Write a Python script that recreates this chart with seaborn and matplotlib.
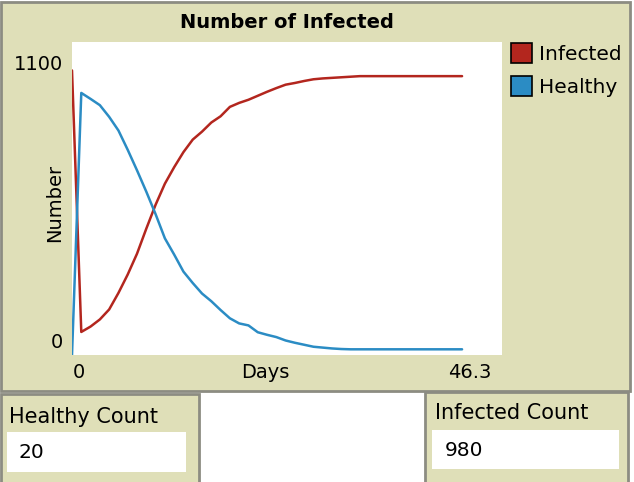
import pandas as pd
import matplotlib
matplotlib.use("Agg")
import matplotlib.pyplot as plt
import seaborn as sns
from matplotlib.patches import Rectangle, Patch

# ==========================================
# data
# ==========================================
days = list(range(43))
healthy = [0, 921, 900, 878, 837, 789, 721, 649, 574, 495,
           410, 353, 293, 253, 216, 189, 158, 129, 111, 104,
           80, 71, 63, 51, 43, 36, 29, 26, 23, 21,
           20, 20, 20, 20, 20, 20, 20, 20, 20, 20, 20, 20, 20]
infected = [1000, 81, 100, 125, 160, 218, 283, 356, 444, 528,
            602, 660, 713, 757, 785, 817, 839, 872, 886, 897,
            911, 925, 938, 950, 956, 963, 969, 972, 974, 976,
            978, 980, 980, 980, 980, 980, 980, 980, 980, 980, 980, 980, 980]
series_names = ["Infected", "Healthy"]
x_ticks = ["0", "46.3"]
y_ticks = ["1100", "0"]
monitor_labels = ["Healthy Count", "Infected Count"]
monitor_values = ["20", "980"]

RED = "#b3261e"
BLUE = "#2b8cc4"
BEIGE = "#dfdfb8"
EDGE = "#8c8c82"

W, H = 634, 482


def fx(x):
    return x / W


def fy(y):
    return 1 - y / H


sns.set_style("white")
plt.rcParams['font.family'] = ['DejaVu Sans']
plt.rcParams['text.color'] = 'black'

fig = plt.figure(figsize=(W / 100, H / 100), dpi=100)
fig.patch.set_facecolor("white")

# panels (main plot widget + two monitors)
def panel(x0, y0, x1, y1, color=BEIGE, edge=EDGE, lw=2.0):
    fig.patches.append(Rectangle((fx(x0), fy(y1)), fx(x1 - x0), (y1 - y0) / H,
                                 transform=fig.transFigure, facecolor=color,
                                 edgecolor=edge, linewidth=lw, zorder=-5))

panel(1, 2, 630, 391)
panel(1, 394, 199, 483)
panel(425, 392, 628, 483)
panel(7, 432, 186, 472, color="white", edge="none", lw=0)
panel(432, 430, 619, 469, color="white", edge="none", lw=0)

# plot area
ax = fig.add_axes([fx(72), fy(355), fx(502 - 72), (355 - 42) / H])
ax.set_zorder(5)
ax.set_facecolor("white")

df = pd.DataFrame({
    "Days": days * 2,
    "Number": infected + healthy,
    "pen": ["Infected"] * len(days) + ["Healthy"] * len(days),
})
sns.lineplot(data=df, x="Days", y="Number", hue="pen", hue_order=series_names,
             palette=[RED, BLUE], linewidth=1.8, legend=False, ax=ax)
ax.set_xlim(0, 46.3)
ax.set_ylim(0, 1100)
ax.set_xticks([])
ax.set_yticks([])
ax.set_xlabel("")
ax.set_ylabel("")
for s in ax.spines.values():
    s.set_visible(False)

fs = 14
fig.text(fx(287), fy(23), "Number of Infected", fontsize=14, fontweight="bold",
         ha="center", va="center")
fig.text(fx(63), fy(65), y_ticks[0], fontsize=fs, ha="right", va="center")
fig.text(fx(63), fy(342), y_ticks[1], fontsize=fs, ha="right", va="center")
fig.text(fx(79), fy(373), x_ticks[0], fontsize=fs, ha="center", va="center")
fig.text(fx(470), fy(373), x_ticks[1], fontsize=fs, ha="center", va="center")
fig.text(fx(265), fy(373), "Days", fontsize=fs, ha="center", va="center")
fig.text(fx(55), fy(203), "Number", fontsize=fs, ha="center", va="center",
         rotation=90)

handles = [Patch(facecolor=c, edgecolor="black", linewidth=1.2) for c in (RED, BLUE)]
fig.legend(handles, series_names, loc="upper left",
           bbox_to_anchor=(fx(503), fy(35)), frameon=False, fontsize=14.5,
           handlelength=1.05, handleheight=1.15, handletextpad=0.35,
           labelspacing=0.6, borderaxespad=0)

# monitors
fig.text(fx(9), fy(417), monitor_labels[0], fontsize=15, ha="left", va="center")
fig.text(fx(18), fy(452), monitor_values[0], fontsize=14.5, ha="left", va="center")
fig.text(fx(435), fy(413), monitor_labels[1], fontsize=15, ha="left", va="center")
fig.text(fx(445), fy(450), monitor_values[1], fontsize=14.5, ha="left", va="center")

fig.savefig("out.png", dpi=100)
plt.close(fig)
